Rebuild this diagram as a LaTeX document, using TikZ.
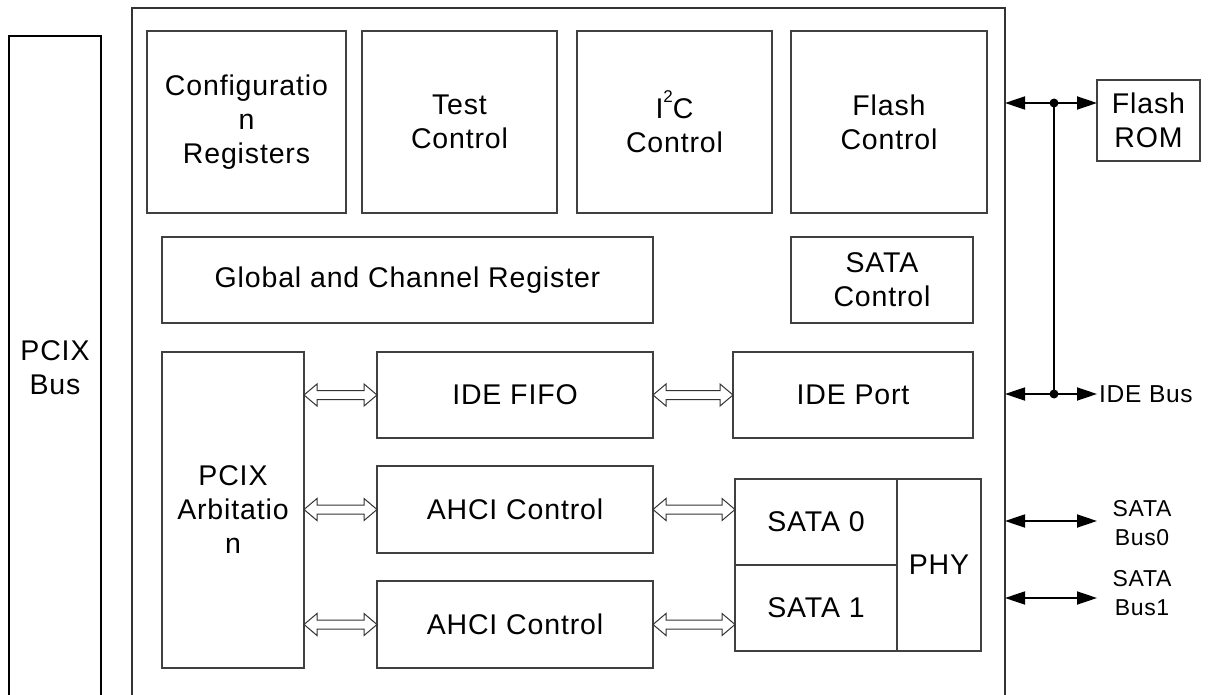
\documentclass[tikz,border=0pt]{standalone}
\usepackage{fontspec}
\setmainfont{Liberation Sans}[LetterSpace=3]
\usetikzlibrary{arrows.meta,calc}
\tikzset{
  blk/.style={draw=black!75, line width=1.4pt, inner sep=0pt, outer sep=0pt, align=center,
    font=\fontsize{28.5}{34}\selectfont},
  outer/.style={draw=black!80, line width=2.4pt, inner sep=0pt, outer sep=0pt},
  harrow/.style={draw=black!80, line width=1pt, fill=white, line join=miter},
  bus/.style={draw=black, line width=1.8pt, {Triangle[length=20pt,width=13pt]}-{Triangle[length=20pt,width=13pt]}},
  wire/.style={draw=black, line width=1.8pt},
  lbl/.style={inner sep=0pt, align=center, font=\fontsize{24.5}{30}\selectfont},
  slbl/.style={inner sep=0pt, align=center, font=\fontsize{23}{29}\selectfont}
}
\newcommand\hollowarrow[2]{%
  \draw[harrow] let \p1=(#1), \p2=(#2) in
   (\x1,\y1) -- (\x1+13pt,\y1+11pt) -- (\x1+13pt,\y1+4.5pt) -- (\x2-13pt,\y1+4.5pt)
   -- (\x2-13pt,\y1+11pt) -- (\x2,\y1) -- (\x2-13pt,\y1-11pt) -- (\x2-13pt,\y1-4.5pt)
   -- (\x1+13pt,\y1-4.5pt) -- (\x1+13pt,\y1-11pt) -- cycle;}
\begin{document}
\begin{tikzpicture}[x=1pt,y=-1pt]
\useasboundingbox (0,0) rectangle (1208,695);
\clip (0,0) rectangle (1208,695);
\fill[white] (0,0) rectangle (1208,695);

% outer boxes
\node[outer, minimum width=873pt, minimum height=712pt] (main) at (568.5,364) {};
\node[blk, draw=black, minimum width=92pt, minimum height=664pt] (pcix) at (55,368) {PCIX\\Bus};

% top row
\node[blk, minimum width=199pt, minimum height=182pt] (cfg) at (246.5,122) {Configuratio\\n\\Registers};
\node[blk, minimum width=195pt, minimum height=182pt] (test) at (459.5,122) {Test\\Control};
\node[blk, minimum width=195pt, minimum height=182pt] (i2c) at (674.5,122) {I\raisebox{0.55em}{\fontsize{17}{17}\selectfont 2}C\\Control};
\node[blk, minimum width=196pt, minimum height=182pt] (flashc) at (889,122) {Flash\\Control};

% second row
\node[blk, minimum width=491pt, minimum height=86pt] (global) at (407.5,280) {Global and Channel Register};
\node[blk, minimum width=182pt, minimum height=86pt] (satac) at (882,280) {SATA\\Control};

% lower area
\node[blk, minimum width=142pt, minimum height=316pt] (arb) at (233,510) {PCIX\\Arbitatio\\n};
\node[blk, minimum width=276pt, minimum height=86pt] (fifo) at (515,395) {IDE FIFO};
\node[blk, minimum width=240pt, minimum height=86pt] (port) at (853,395) {IDE Port};
\node[blk, minimum width=276pt, minimum height=87pt] (ahci1) at (515,509.5) {AHCI Control};
\node[blk, minimum width=276pt, minimum height=87pt] (ahci2) at (515,624.5) {AHCI Control};
\node[blk, minimum width=162pt, minimum height=86pt] (sata0) at (816,522) {SATA 0};
\node[blk, minimum width=162pt, minimum height=86pt] (sata1) at (816,608) {SATA 1};
\node[blk, minimum width=84pt, minimum height=172pt] (phy) at (939,565) {PHY};

% hollow double arrows
\hollowarrow{arb.east |- fifo.west}{fifo.west}
\hollowarrow{arb.east |- ahci1.west}{ahci1.west}
\hollowarrow{arb.east |- ahci2.west}{ahci2.west}
\hollowarrow{fifo.east}{port.west}
\hollowarrow{ahci1.east}{sata0.west |- ahci1.east}
\hollowarrow{ahci2.east}{sata1.west |- ahci2.east}

% external
\node[blk, minimum width=103pt, minimum height=81pt] (flashrom) at (1148.5,120.5) {Flash\\ROM};
\node[lbl, anchor=west] (idebus) at (1099,394) {IDE Bus};
\node[slbl] (bus0) at (1142,523) {SATA\\Bus0};
\node[slbl] (bus1) at (1142,593) {SATA\\Bus1};

\coordinate (j1) at (1054,103);
\coordinate (j2) at (1054,394);
\coordinate (b0) at (1097,521);
\coordinate (b1) at (1097,598);
\coordinate (ib) at (1097,394);

\draw[wire] (j1) -- (j2);
\draw[bus] (main.east |- j1) -- (flashrom.west |- j1);
\draw[bus] (main.east |- j2) -- (ib);
\draw[bus] (main.east |- b0) -- (b0);
\draw[bus] (main.east |- b1) -- (b1);
\fill (j1) circle (4.5);
\fill (j2) circle (4.5);
\end{tikzpicture}
\end{document}
